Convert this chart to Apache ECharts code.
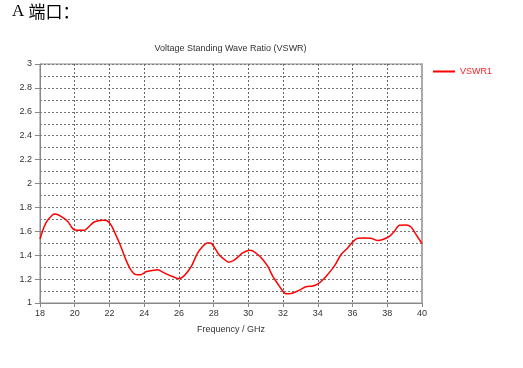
<!DOCTYPE html>
<html>
<head>
<meta charset="utf-8">
<script src="https://cdn.jsdelivr.net/npm/echarts@6/dist/echarts.min.js"></script>
<style>
html,body{margin:0;padding:0;background:#fff;}
#chart{width:523px;height:368px;}
</style>
</head>
<body>
<div id="chart"></div>
<script>
const headingLatin = 'A ';
const headingCJK = '端口：';
const chartTitle = 'Voltage Standing Wave Ratio (VSWR)';
const xName = 'Frequency / GHz';
const seriesName = 'VSWR1';
const freq = [18, 18.34, 18.73, 18.88, 19.3, 19.6, 19.9, 20.16, 20.55, 20.83, 21.12, 21.6, 21.83, 22.08, 22.36, 22.65, 22.94, 23.22, 23.5, 23.8, 24.09, 24.47, 24.76, 25.04, 25.33, 25.71, 26.0, 26.19, 26.48, 26.77, 27.05, 27.34, 27.63, 27.82, 28.0, 28.3, 28.58, 28.87, 29.16, 29.44, 29.67, 30.06, 30.25, 30.54, 30.83, 31.11, 31.4, 31.69, 31.98, 32.17, 32.46, 32.74, 33.03, 33.32, 33.7, 33.99, 34.28, 34.57, 34.95, 35.34, 35.72, 36.01, 36.3, 36.68, 37.06, 37.45, 37.74, 38.12, 38.41, 38.69, 39.08, 39.37, 39.66, 40.0];
const vswr = [1.536, 1.67, 1.739, 1.744, 1.717, 1.683, 1.62, 1.608, 1.608, 1.64, 1.678, 1.692, 1.69, 1.656, 1.572, 1.475, 1.364, 1.28, 1.239, 1.236, 1.261, 1.272, 1.278, 1.261, 1.239, 1.217, 1.203, 1.214, 1.258, 1.322, 1.411, 1.469, 1.503, 1.503, 1.475, 1.406, 1.369, 1.342, 1.356, 1.39, 1.419, 1.442, 1.436, 1.406, 1.364, 1.308, 1.225, 1.161, 1.1, 1.078, 1.08, 1.094, 1.114, 1.136, 1.142, 1.158, 1.192, 1.239, 1.308, 1.406, 1.461, 1.511, 1.542, 1.544, 1.542, 1.522, 1.531, 1.558, 1.6, 1.65, 1.653, 1.636, 1.572, 1.497];

const data = freq.map((f, i) => [f, vswr[i]]);
const font = '"Liberation Sans", Arial, sans-serif';
const chart = echarts.init(document.getElementById('chart'), null, {renderer: 'canvas'});
chart.setOption({
  animation: false,
  backgroundColor: '#fff',
  graphic: [
    {type: 'text', left: 12, top: 3, style: {
      text: '{a|' + headingLatin + '}{c|' + headingCJK + '}',
      rich: {
        a: {fontFamily: '"Liberation Serif", serif', fontSize: 17, fill: '#000', color: '#000'},
        c: {fontFamily: '"Noto Sans CJK SC", sans-serif', fontSize: 17, fill: '#000', color: '#000'}
      }
    }},
    {type: 'text', x: 230.5, y: 49, style: {text: chartTitle, font: '9px ' + font, fill: '#333', align: 'center', verticalAlign: 'middle'}}
  ],
  grid: {left: 40, right: 101, top: 64, bottom: 65, show: true, borderColor: '#888', borderWidth: 1},
  legend: {
    left: 433, top: 67, padding: 0, itemWidth: 22, itemHeight: 2, itemGap: 4, icon: 'rect',
    data: [seriesName],
    textStyle: {color: '#ff2020', fontSize: 9, fontFamily: font}
  },
  xAxis: {
    type: 'value', min: 18, max: 40, interval: 2,
    name: xName, nameLocation: 'middle', nameGap: 22,
    nameTextStyle: {color: '#333', fontSize: 9, fontFamily: font},
    axisLine: {show: true, lineStyle: {color: '#888', width: 1}},
    axisTick: {show: true, length: 4, lineStyle: {color: '#888'}},
    axisLabel: {color: '#333', fontSize: 9, fontFamily: font, margin: 6},
    splitLine: {show: true, lineStyle: {color: '#666', type: [2, 2], width: 1}}
  },
  yAxis: [{
    type: 'value', min: 1, max: 3, interval: 0.2,
    axisLine: {show: true, lineStyle: {color: '#888', width: 1}},
    axisTick: {show: true, length: 5, lineStyle: {color: '#888'}},
    axisLabel: {color: '#333', fontSize: 9, fontFamily: font, margin: 8, formatter: v => String(+v.toFixed(1))},
    splitLine: {show: true, lineStyle: {color: '#777', type: [2, 2], width: 1}},
    minorTick: {show: false, splitNumber: 2},
    minorSplitLine: {show: true, lineStyle: {color: '#777', type: [2, 2], width: 1}}
  }, {
    type: 'value', min: 1, max: 3, interval: 0.2, position: 'right',
    axisLine: {show: true, lineStyle: {color: '#aaa', width: 2}},
    axisTick: {show: false}, axisLabel: {show: false}, splitLine: {show: false}
  }],
  series: [{
    name: seriesName, type: 'line', data: data, smooth: 0.3, symbol: 'none',
    lineStyle: {color: '#ff0000', width: 1.5}, itemStyle: {color: '#ff0000'}
  }]
});
</script>
</body>
</html>
